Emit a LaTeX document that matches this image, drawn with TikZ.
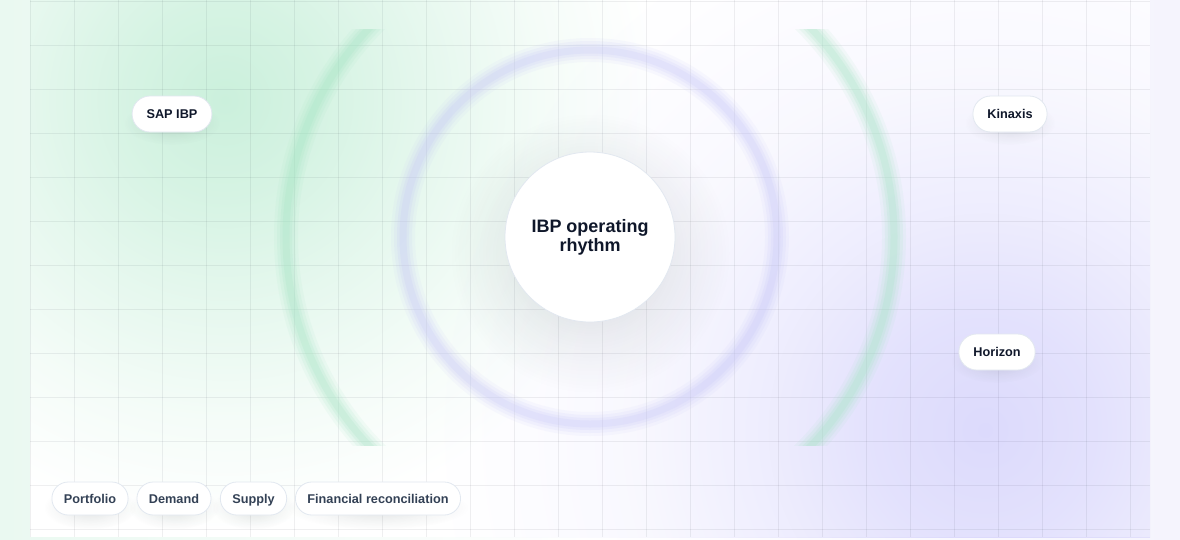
\documentclass[tikz,border=0pt]{standalone}
\usepackage{fontspec}
\setmainfont{Liberation Sans}
\usetikzlibrary{fadings,calc}
\definecolor{ink}{RGB}{15,23,42}
\definecolor{slate}{RGB}{51,65,85}
\definecolor{pillborder}{RGB}{226,232,240}
\definecolor{bgL}{RGB}{234,249,241}
\definecolor{bgR}{RGB}{245,244,253}
\definecolor{glowG}{RGB}{203,240,220}
\definecolor{glowV}{RGB}{220,218,252}
\definecolor{arcG}{RGB}{165,228,196}
\definecolor{ringV}{RGB}{195,195,247}
\definecolor{gridc}{RGB}{15,23,42}
\definecolor{shadowc}{RGB}{40,60,60}
\pgfdeclareradialshading{greenglow}{\pgfpoint{0bp}{0bp}}{%
  color(0bp)=(glowG); color(5.4bp)=(glowG!78!white); color(10.9bp)=(glowG!50!white);
  color(17.4bp)=(glowG!20!white); color(23.4bp)=(white); color(50bp)=(white)}
\pgfdeclareradialshading{violetglow}{\pgfpoint{0bp}{0bp}}{%
  color(0bp)=(glowV); color(5bp)=(glowV!80!white); color(10bp)=(glowV!48!white);
  color(16bp)=(glowV!18!white); color(22.5bp)=(glowV!4!white); color(25bp)=(white); color(50bp)=(white)}
\pgfdeclareradialshading{softglowsh}{\pgfpoint{0bp}{0bp}}{%
  color(0bp)=(white); color(8bp)=(white!70!black); color(16bp)=(white!32!black);
  color(25bp)=(black); color(50bp)=(black)}
\pgfdeclarefading{softglow}{\pgfuseshading{softglowsh}}
\pgfdeclarelayer{bglayer}
\pgfdeclarelayer{shadowlayer}
\pgfsetlayers{bglayer,shadowlayer,main}
\begin{document}
\begin{tikzpicture}[x=1pt,y=-1pt,
  gridline/.style={gridc, draw opacity=0.065, line width=0.8pt},
  toppill/.style={draw=pillborder, line width=0.8pt, fill=white, rounded corners=17.9pt,
    minimum height=36pt, inner xsep=14.5pt, inner ysep=0pt, text height=9.1pt, text depth=0pt,
    font=\fontsize{12.7}{14}\selectfont\bfseries, text=ink},
  botpill/.style={toppill, minimum height=33pt, rounded corners=16.4pt, inner xsep=12pt, text=slate},
  corenode/.style={circle, minimum size=170pt, inner sep=0pt, fill=white, draw=pillborder,
    line width=0.8pt, align=center, font=\fontsize{18}{19}\selectfont\bfseries, text=ink},
  softshadow/.style={fill=shadowc, path fading=softglow}
]
\useasboundingbox (0,0) rectangle (1180,539);
\begin{pgfonlayer}{bglayer}
% page background
\shade[left color=bgL, right color=bgR, middle color=white] (0,0) rectangle (1180,539);
% panel
\fill[white] (30,0) rectangle (1150,537);
\begin{scope}
  \clip (30,0) rectangle (1150,537);
  \begin{scope}[blend mode=multiply]
    \shade[shading=greenglow] (225,100) circle[radius=460pt];
    \shade[shading=violetglow] (985,430) circle[radius=560pt];
  \end{scope}
  \foreach \i in {0,...,25} \draw[gridline] ({30+44*\i},0) -- ({30+44*\i},537);
  \foreach \j in {0,...,12} \draw[gridline] (30,{1+44*\j}) -- (1150,{1+44*\j});
\end{scope}
% green arcs
\begin{scope}
  \clip (0,29) rectangle (1180,445);
  \foreach \w/\o in {24/0.10, 18/0.14, 12/0.18, 7/0.22}
    \draw[arcG, line width=\w pt, draw opacity=\o] (590,237) circle[radius=304pt];
\end{scope}
% lavender ring
\foreach \w/\o in {24/0.09, 18/0.12, 12/0.15, 7/0.18}
  \draw[ringV, line width=\w pt, draw opacity=\o] (590,237) circle[radius=187pt];
\end{pgfonlayer}
% core
\node[corenode] (core) at (590,237) {IBP operating\\rhythm};
% tool pills
\node[toppill] (sap) at (172,114) {SAP IBP};
\node[toppill] (kinaxis) at (1010,114) {Kinaxis};
\node[toppill] (horizon) at (997,352) {Horizon};
% phase pills
\node[botpill] (portfolio) at (90,498.5) {Portfolio};
\node[botpill] (demand) at (174,498.5) {Demand};
\node[botpill] (supply) at (253.5,498.5) {Supply};
\node[botpill] (finrec) at (378,498.5) {Financial reconciliation};
% shadows
\begin{pgfonlayer}{shadowlayer}
  \fill[softshadow, fill opacity=0.18] ($(core.center)+(0,16)$) circle[radius=140pt];
  \foreach \nm in {sap,kinaxis,horizon,portfolio,demand,supply,finrec}
    \path let \p1=($(\nm.east)-(\nm.west)$) in
      [softshadow, fill opacity=0.14] ($(\nm.center)+(0,9)$) ellipse[x radius={0.5*\x1+8pt}, y radius=22pt];
\end{pgfonlayer}
\end{tikzpicture}
\end{document}
